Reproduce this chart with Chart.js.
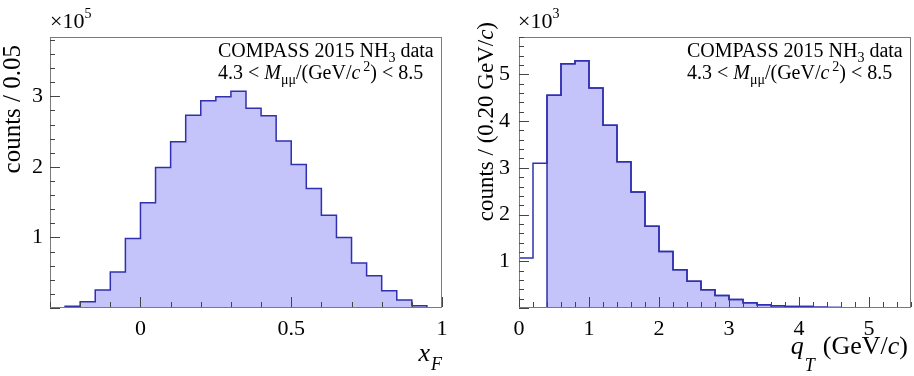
<!DOCTYPE html>
<html><head><meta charset="utf-8">
<script src="https://cdn.jsdelivr.net/npm/chart.js@4/dist/chart.umd.min.js"></script>
<style>
html,body{margin:0;padding:0;background:#fff;}
#wrap{position:relative;width:914px;height:376px;overflow:hidden;}
canvas{position:absolute;top:0;}
</style></head><body>
<div id="wrap">
<canvas id="c1" width="457" height="376" style="left:0"></canvas>
<canvas id="c2" width="457" height="376" style="left:457px"></canvas>
</div>
<script>
// ---------- data: left panel (x_F), counts in units of 10^5 per 0.05 ----------
const xfBinLow = [-0.25,-0.20,-0.15,-0.10,-0.05,0.00,0.05,0.10,0.15,0.20,0.25,0.30,
                  0.35,0.40,0.45,0.50,0.55,0.60,0.65,0.70,0.75,0.80,0.85,0.90];
const xfBinWidth = 0.05;
const xfCounts = [0.025,0.09,0.255,0.51,0.985,1.49,1.99,2.355,2.73,2.935,2.995,3.07,
                  2.83,2.725,2.365,2.035,1.695,1.315,1.00,0.637,0.458,0.245,0.113,0.033];
const xfXTicks = [0, 0.5, 1];
const xfXTickLabels = ['0', '0.5', '1'];
const xfYTicks = [1, 2, 3];

// ---------- data: right panel (q_T), counts in units of 10^3 per 0.20 GeV/c ----------
const qtBinLow = [0.0,0.2,0.4,0.6,0.8,1.0,1.2,1.4,1.6,1.8,2.0,2.2,2.4,2.6,
                  2.8,3.0,3.2,3.4,3.6,3.8,4.0,4.2,4.4,4.6,4.8,5.0,5.2,5.4];
const qtBinWidth = 0.2;
const qtCounts = [1.07,3.10,4.555,5.23,5.29,4.71,3.91,3.13,2.48,1.75,1.21,0.82,0.57,0.39,
                  0.27,0.18,0.115,0.07,0.05,0.03,0.03,0.015,0.010,0.008,0.006,0.005,0.004,0.003];
const qtCut = 0.4;   // selected region (filled) starts here
const qtXTicks = [0, 1, 2, 3, 4, 5];
const qtYTicks = [1, 2, 3, 4, 5];

// ---------- styles ----------
const LINE = 'rgb(48,48,176)';
const FILL = 'rgb(196,196,250)';
const SERIF = '"Liberation Serif", "DejaVu Serif", serif';

function stepPoints(lows, vals, w) {
  const pts = [{x: lows[0], y: 0}];
  lows.forEach((l, i) => pts.push({x: l, y: vals[i]}));
  const end = lows[lows.length - 1] + w;
  pts.push({x: end, y: vals[vals.length - 1]});
  pts.push({x: end, y: 0});
  return pts;
}

function fontStr(r) {
  return (r.style || 'normal') + ' ' + r.size + 'px ' + SERIF;
}
function drawRuns(ctx, x, y, runs, align) {
  let w = 0;
  runs.forEach(r => { ctx.font = fontStr(r); r.w = ctx.measureText(r.t).width + (r.gap || 0); w += r.w; });
  let cx = align === 'right' ? x - w : x;
  runs.forEach(r => { ctx.font = fontStr(r); ctx.fillText(r.t, cx, y + (r.dy || 0)); cx += r.w; });
}

const framePlugin = {
  id: 'frameTicks',
  afterDraw(chart, args, o) {
    const ctx = chart.ctx, a = chart.chartArea;
    const xs = chart.scales.x, ys = chart.scales.y;
    const l = Math.round(a.left), r = Math.round(a.right) - 1;
    const t = Math.round(a.top), b = Math.round(a.bottom) - 1;
    ctx.save();
    // frame (1px rectangles)
    ctx.fillStyle = '#7a7a7a';
    ctx.fillRect(l, t, r - l + 1, 1);
    ctx.fillRect(l, b, r - l + 1, 1);
    ctx.fillRect(l, t, 1, b - t + 1);
    ctx.fillRect(r, t, 1, b - t + 1);
    // inward ticks
    ctx.fillStyle = '#444';
    const x0 = Math.ceil(xs.min / o.xMinor - 1e-6);
    const x1 = Math.floor(xs.max / o.xMinor + 1e-6);
    for (let k = x0; k <= x1; k++) {
      const v = k * o.xMinor;
      const isMaj = Math.abs(v / o.xMajor - Math.round(v / o.xMajor)) < 1e-6;
      const px = Math.round(xs.getPixelForValue(v));
      const len = isMaj ? 10 : 5;
      ctx.fillRect(px, b - len, 1, len);
    }
    const y0 = Math.ceil(ys.min / o.yMinor - 1e-6);
    const y1 = Math.floor(ys.max / o.yMinor + 1e-6);
    for (let k = y0; k <= y1; k++) {
      const v = k * o.yMinor;
      const isMaj = Math.abs(v / o.yMajor - Math.round(v / o.yMajor)) < 1e-6;
      const py = Math.round(ys.getPixelForValue(v));
      ctx.fillRect(l, py, isMaj ? 10 : 5, 1);
    }
    // texts
    ctx.fillStyle = '#000';
    ctx.textBaseline = 'alphabetic';
    ctx.textAlign = 'left';
    (o.texts || []).forEach(tx => {
      if (tx.rot) {
        ctx.save();
        ctx.translate(tx.x, tx.y);
        ctx.rotate(-Math.PI / 2);
        drawRuns(ctx, 0, 0, tx.runs, tx.align);
        ctx.restore();
      } else {
        drawRuns(ctx, tx.x, tx.y, tx.runs, tx.align);
      }
    });
    ctx.restore();
  }
};

function makeChart(id, cfg) {
  return new Chart(document.getElementById(id), {
    type: 'line',
    data: {datasets: cfg.datasets},
    options: {
      responsive: false,
      animation: false,
      devicePixelRatio: 1,
      layout: {padding: cfg.padding},
      plugins: {legend: {display: false}, tooltip: {enabled: false}, frameTicks: cfg.frame},
      elements: {point: {radius: 0}},
      scales: {
        x: {
          type: 'linear', min: cfg.xmin, max: cfg.xmax,
          grid: {display: false, drawTicks: false}, border: {display: false},
          afterBuildTicks: s => { s.ticks = cfg.xTicks.map(v => ({value: v})); },
          afterFit: s => { s.height = cfg.xHeight; },
          ticks: {
            padding: cfg.xPad, color: '#000', maxRotation: 0, autoSkip: false,
            font: {family: SERIF, size: 22},
            callback: cfg.xLabel
          }
        },
        y: {
          type: 'linear', min: 0, max: cfg.ymax,
          grid: {display: false, drawTicks: false}, border: {display: false},
          afterBuildTicks: s => { s.ticks = cfg.yTicks.map(v => ({value: v})); },
          afterFit: s => { s.width = cfg.yWidth; },
          ticks: {
            padding: cfg.yPad, color: '#000', autoSkip: false,
            font: {family: SERIF, size: 22},
            callback: v => String(v)
          }
        }
      }
    },
    plugins: [framePlugin]
  });
}

// ----- left chart -----
makeChart('c1', {
  datasets: [{
    data: stepPoints(xfBinLow, xfCounts, xfBinWidth),
    stepped: true, borderColor: LINE, borderWidth: 1.5,
    backgroundColor: FILL, fill: 'origin'
  }],
  padding: {left: 0, right: 15, top: 37, bottom: 0},
  xmin: -0.3, xmax: 1.0, ymax: 3.84,
  xTicks: xfXTicks, yTicks: xfYTicks,
  xLabel: (v) => xfXTickLabels[xfXTicks.indexOf(v)],
  xHeight: 68, yWidth: 50, xPad: 8, yPad: 7,
  frame: {
    xMinor: 0.1, xMajor: 0.5, yMinor: 0.2, yMajor: 1,
    texts: [
      {x: 50, y: 28, runs: [{t: '\u00d710', size: 22}, {t: '5', size: 14, dy: -10}]},
      {x: 20, y: 45, rot: true, align: 'right', runs: [{t: 'counts / 0.05', size: 25}]},
      {x: 218, y: 57, runs: [{t: 'COMPASS 2015 NH', size: 20}, {t: '3', size: 14, dy: 5}, {t: ' data', size: 20}]},
      {x: 218, y: 79, runs: [{t: '4.3 < ', size: 20}, {t: 'M', size: 20, style: 'italic'},
        {t: '\u03bc\u03bc', size: 14, dy: 5}, {t: '/(GeV/', size: 20}, {t: 'c', size: 20, style: 'italic', gap: 3},
        {t: '2', size: 14, dy: -8}, {t: ') < 8.5', size: 20}]},
      {x: 442, y: 361, align: 'right', runs: [{t: 'x', size: 26, style: 'italic', gap: 1}, {t: 'F', size: 18, style: 'italic', dy: 9}]}
    ]
  }
});

// ----- right chart -----
const qtSelLow = qtBinLow.filter(l => l >= qtCut - 1e-9);
const qtSelCounts = qtCounts.filter((c, i) => qtBinLow[i] >= qtCut - 1e-9);
makeChart('c2', {
  datasets: [
    { // full outline (drawn on top)
      data: stepPoints(qtBinLow, qtCounts, qtBinWidth),
      stepped: true, borderColor: LINE, borderWidth: 1.5, fill: false
    },
    { // selected region, filled
      data: stepPoints(qtSelLow, qtSelCounts, qtBinWidth),
      stepped: true, borderColor: LINE, borderWidth: 1.5,
      backgroundColor: FILL, fill: 'origin'
    }
  ],
  padding: {left: 0, right: 3, top: 37, bottom: 0},
  xmin: 0, xmax: 5.6, ymax: 5.8,
  xTicks: qtXTicks, yTicks: qtYTicks,
  xLabel: (v) => String(v),
  xHeight: 68, yWidth: 62, xPad: 8, yPad: 9,
  frame: {
    xMinor: 0.2, xMajor: 1, yMinor: 0.2, yMajor: 1,
    texts: [
      {x: 61, y: 28, runs: [{t: '\u00d710', size: 22}, {t: '3', size: 14, dy: -10}]},
      {x: 36, y: 22, rot: true, align: 'right', runs: [{t: 'counts / (0.20 GeV/', size: 23}, {t: 'c', size: 23, style: 'italic'}, {t: ')', size: 23}]},
      {x: 230, y: 57, runs: [{t: 'COMPASS 2015 NH', size: 20}, {t: '3', size: 14, dy: 5}, {t: ' data', size: 20}]},
      {x: 230, y: 79, runs: [{t: '4.3 < ', size: 20}, {t: 'M', size: 20, style: 'italic'},
        {t: '\u03bc\u03bc', size: 14, dy: 5}, {t: '/(GeV/', size: 20}, {t: 'c', size: 20, style: 'italic', gap: 3},
        {t: '2', size: 14, dy: -8}, {t: ') < 8.5', size: 20}]},
      {x: 451, y: 354, align: 'right', runs: [{t: 'q', size: 26, style: 'italic', gap: 1}, {t: 'T', size: 18, style: 'italic', dy: 17, gap: 8},
        {t: '(GeV/', size: 26}, {t: 'c', size: 26, style: 'italic'}, {t: ')', size: 26}]}
    ]
  }
});
</script>
</body></html>
